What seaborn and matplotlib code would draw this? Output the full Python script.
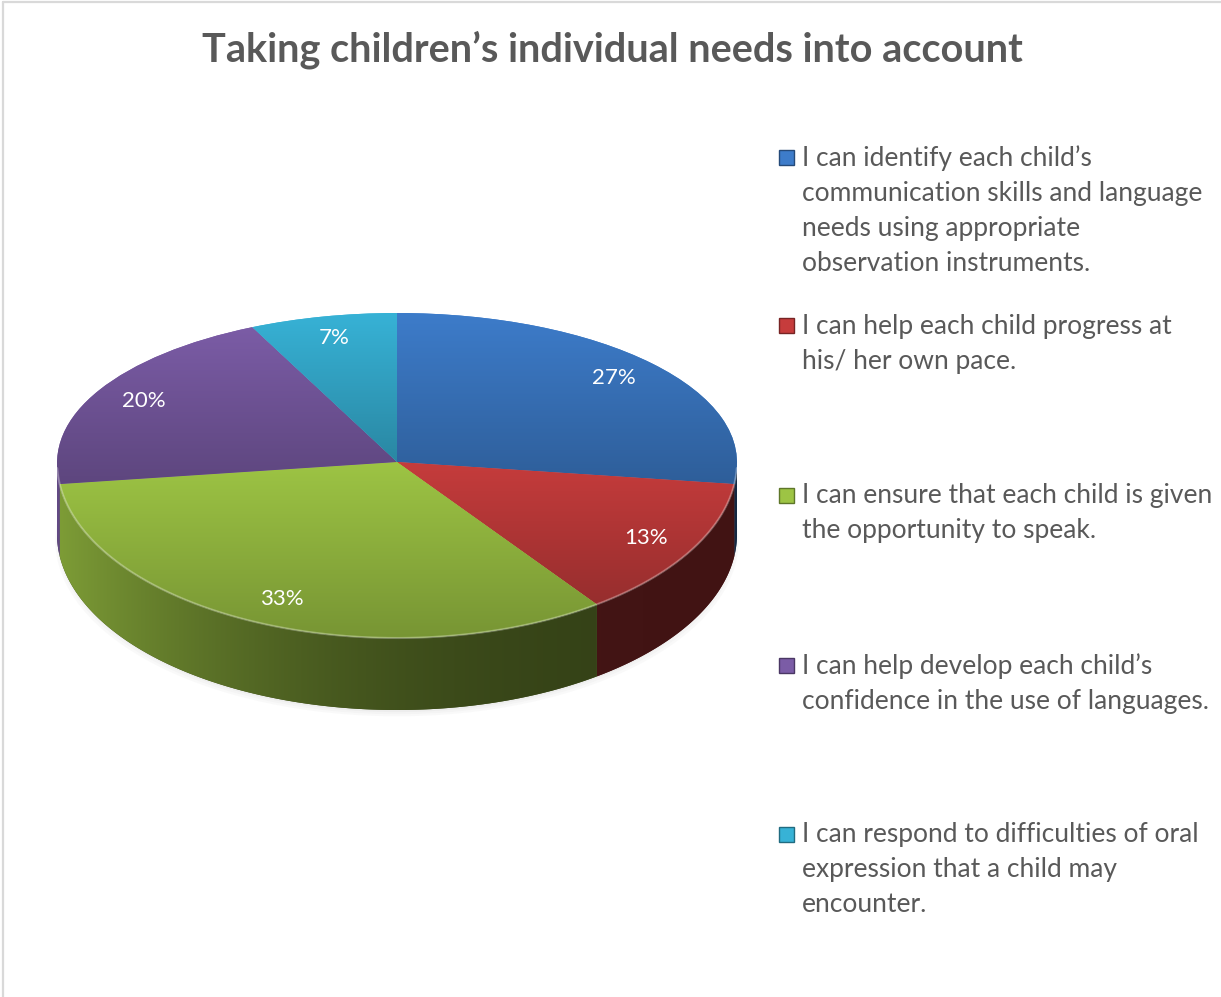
import numpy as np
import matplotlib
matplotlib.use("Agg")
import matplotlib.pyplot as plt
import seaborn as sns
from matplotlib.patches import Polygon, Rectangle, Ellipse
from matplotlib.lines import Line2D
from matplotlib.colors import to_rgb
from matplotlib.transforms import Transform

sns.set_theme(style="white")
plt.rcParams["font.family"] = ["Lato", "DejaVu Sans"]

# ---- data -------------------------------------------------------------
title = "Taking children\u2019s individual needs into account"
statements = [
    "I can identify each child\u2019s\ncommunication skills and language\nneeds using appropriate\nobservation instruments.",
    "I can help each child progress at\nhis/ her own pace.",
    "I can ensure that each child is given\nthe opportunity to speak.",
    "I can help develop each child\u2019s\nconfidence in the use of languages.",
    "I can respond to difficulties of oral\nexpression that a child may\nencounter.",
]
shares = [27, 13, 33, 20, 7]
slice_colors = ["#3d7cca", "#c63c3c", "#9dc444", "#7b5ca6", "#37b2d6"]


class Tilt(Transform):
    """Lay the unit disc down in perspective: the far half is flattened more
    than the near half (output y is in pixel-sized units)."""
    input_dims = output_dims = 2
    is_separable = False
    has_inverse = False

    def __init__(self, back, front):
        super().__init__()
        self.back = back
        self.front = front

    def transform_non_affine(self, values):
        v = np.array(values, dtype=float)
        out = v.copy()
        y = v[..., 1]
        out[..., 1] = np.where(y > 0, y * self.back, y * self.front)
        return out


# ---- canvas -----------------------------------------------------------
W, H = 1221, 997
fig = plt.figure(figsize=(W / 100, H / 100), dpi=100)
fig.patch.set_facecolor("white")


def fx(px):
    return px / W


def fy(py):
    return 1 - py / H


# thin chart-area border (left and top edges)
fig.add_artist(Line2D([fx(2.5), fx(2.5)], [fy(2.5), 0], transform=fig.transFigure,
                      color="#d9d9d9", lw=1.6))
fig.add_artist(Line2D([fx(2.5), 1], [fy(2.5), fy(2.5)], transform=fig.transFigure,
                      color="#d9d9d9", lw=1.6))

fig.text(fx(612), fy(50), title, ha="center", va="center", fontsize=28.5,
         fontweight="bold", color="#595959")

# pie axes: 340 px per unit horizontally, y in pixels around the pie centre
ax = fig.add_axes([fx(40), fy(726), 714 / W, 424 / H])
tilt = Tilt(149.0, 176.0)
T = tilt + ax.transData
depth = 72.0 / 176.0

wedges, _, autotexts = ax.pie(
    shares, colors=slice_colors, startangle=90, counterclock=False,
    autopct=lambda p: f"{p:.0f}%", pctdistance=0.85, radius=1,
    wedgeprops=dict(linewidth=0, zorder=3),
    textprops=dict(color="white", fontsize=16),
)
for w in wedges:
    w.set_transform(T)
for t in autotexts:
    t.set_transform(T)
    t.set_zorder(6)

# soft shadow under the disc
for k, a in enumerate([0.045, 0.04, 0.035]):
    sh = Ellipse((0, -depth - 0.012 * (k + 1)), 1.99 + 0.01 * k, 2.0,
                 facecolor="#707070", edgecolor="none", alpha=a, zorder=1)
    sh.set_transform(T)
    ax.add_patch(sh)

# side walls of the near half, shaded darker towards the right
xs = np.linspace(-1, 1, 500)
shade = 0.33 + 0.47 * ((1 - xs) / 2) ** 2.5
for w, c in zip(wedges, slice_colors):
    base = np.array(to_rgb(c))
    for shift in (-360, 0, 360):
        a = max(w.theta1 + shift, 180)
        b = min(w.theta2 + shift, 360)
        if b <= a:
            continue
        th = np.radians(np.linspace(a, b, 200))
        top = np.column_stack([np.cos(th), np.sin(th)])
        bot = np.column_stack([np.cos(th[::-1]), np.sin(th[::-1]) - depth])
        wall = Polygon(np.vstack([top, bot]), closed=True, facecolor=base * 0.4,
                       edgecolor="none", zorder=2)
        wall.set_transform(T)
        ax.add_patch(wall)
        img = np.clip(base[None, None, :] * shade[None, :, None], 0, 1)
        im = ax.imshow(img, extent=(-1, 1, -176.0 - 72.0, 0), aspect="auto",
                       interpolation="bilinear", zorder=2.5)
        im.set_clip_path(wall)

# vertical gradient on each slice of the top face
tt = np.linspace(0, 1, 200)
for w, c in zip(wedges, slice_colors):
    base = np.array(to_rgb(c))
    ext = tilt.transform_path(w.get_path()).get_extents()
    img = np.clip(base[None, None, :] * (1 - 0.24 * tt)[:, None, None], 0, 1)
    im = ax.imshow(img, extent=(ext.x0, ext.x1, ext.y0, ext.y1), aspect="auto",
                   interpolation="bilinear", zorder=4)
    im.set_clip_path(w)

# light rim along the near edge of the top face
th = np.radians(np.linspace(182, 358, 300))
ax.plot(np.cos(th), np.sin(th), color="white", alpha=0.3, lw=1.5, zorder=5,
        transform=T)

ax.set_aspect("auto")
ax.set_xlim(-1.05, 1.05)
ax.set_ylim(-264, 160)
ax.axis("off")

# ---- legend -----------------------------------------------------------
first_line = [157, 326, 495, 665, 834]
for y0, label, c in zip(first_line, statements, slice_colors):
    base = np.array(to_rgb(c))
    fig.add_artist(Rectangle((fx(779), fy(y0 + 7.5)), 15 / W, 15 / H,
                             transform=fig.transFigure, facecolor=c,
                             edgecolor=base * 0.6, lw=1.0))
    fig.text(fx(802), fy(y0 - 12), label, ha="left", va="top", fontsize=19,
             color="#595959", linespacing=1.5)

fig.savefig("out.png", dpi=100, facecolor="white")
